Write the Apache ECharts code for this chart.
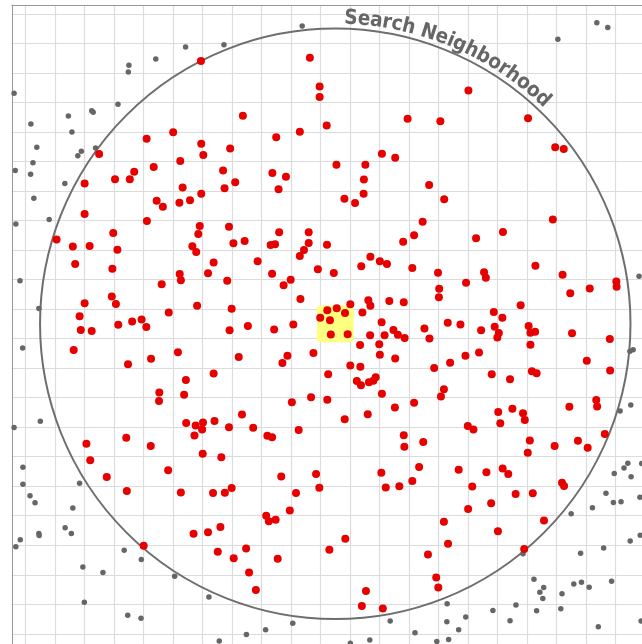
<!DOCTYPE html>
<html>
<head>
<meta charset="utf-8">
<script src="https://cdn.jsdelivr.net/npm/echarts@6/dist/echarts.min.js"></script>
<style>
  html, body { margin: 0; padding: 0; background: #ffffff; }
  #chart { width: 642px; height: 644px; }
</style>
</head>
<body>
<div id="chart"></div>
<script>
// Data (grid cell = 10 units; search neighborhood centred on cell (100..110, 100..110))
const searchCenter = [105, 105];
const searchRadius = 100;
const focusCell = [98.75, 98.75, 111.25, 111.25];
const labelText = 'Search Neighborhood';

const neighborPoints = [
[59.5,16.0],[25.0,47.5],[41.1,42.3],[50.1,40.1],[59.6,44.0],[60.3,47.8],[52.5,49.8],[43.5,51.9],[36.9,53.5],[35.4,56.0],
[30.4,56.0],[20.1,57.5],[53.3,58.8],[59.6,60.9],[44.5,63.3],[46.6,65.3],[52.2,64.0],[55.8,63.1],[20.1,67.8],[96.4,14.9],
[99.7,24.6],[99.7,28.2],[73.7,34.5],[102.1,37.8],[129.5,35.5],[85.0,41.8],[93.0,39.9],[69.4,45.6],[67.0,53.1],[67.5,59.1],
[71.1,57.0],[83.7,53.9],[88.3,55.2],[85.8,59.4],[105.4,51.1],[115.2,51.1],[120.8,47.4],[125.3,48.7],[114.7,56.1],[114.6,60.9],
[108.1,62.6],[111.7,64.1],[136.8,58.0],[150.1,26.0],[140.6,36.4],[170.3,35.4],[179.5,45.2],[182.4,45.8],[141.9,62.8],[10.6,76.4],
[16.1,78.8],[21.8,78.6],[29.8,74.2],[31.2,79.9],[41.2,70.2],[16.9,84.7],[29.5,86.3],[59.1,71.9],[58.6,74.6],[56.6,78.7],
[57.9,80.7],[63.8,84.2],[61.9,87.9],[52.3,88.1],[52.7,90.2],[46.2,91.6],[29.3,95.7],[30.7,98.3],[20.1,98.0],[18.4,102.4],
[18.8,107.1],[22.5,107.4],[31.5,105.3],[36.2,104.2],[39.4,103.5],[41.0,106.1],[48.6,101.2],[58.2,98.9],[16.4,113.9],[51.7,114.6],
[42.6,116.8],[34.8,118.7],[63.8,121.8],[54.4,124.0],[53.8,129.0],[45.4,128.3],[45.3,131.1],[54.5,138.6],[57.7,139.4],[60.2,138.4],
[59.9,140.8],[64.1,137.9],[69.0,72.1],[70.5,77.7],[74.3,76.9],[86.0,74.0],[96.0,74.0],[83.1,78.3],[84.6,78.0],[96.0,77.6],
[94.4,80.0],[93.0,82.0],[102.2,78.2],[78.7,83.8],[83.6,88.0],[89.9,90.1],[87.5,91.9],[99.1,86.5],[104.5,87.8],[68.4,90.4],
[93.2,96.6],[69.9,99.9],[69.2,107.2],[75.4,105.7],[84.3,106.9],[90.8,105.2],[72.3,116.2],[88.8,115.8],[87.1,118.3],[97.6,114.9],
[102.3,100.4],[105.5,99.7],[108.3,101.3],[110.1,98.4],[99.9,102.9],[103.2,103.8],[103.5,108.6],[109.2,108.5],[113.8,85.5],[116.9,82.3],
[120.1,83.8],[122.5,84.7],[128.0,77.2],[131.7,75.0],[134.6,70.4],[131.1,86.1],[116.2,97.0],[116.9,98.9],[123.3,97.3],[128.2,97.7],
[114.2,101.2],[120.7,104.5],[124.7,107.1],[126.2,108.7],[128.5,109.8],[121.7,108.9],[116.8,108.9],[113.4,112.2],[119.9,111.9],[120.1,115.5],
[125.3,116.7],[135.2,106.6],[136.9,110.0],[110.1,119.1],[113.5,119.5],[102.6,122.1],[112.3,124.4],[113.7,125.8],[116.4,124.8],[117.9,124.3],
[118.7,123.1],[120.8,128.7],[125.2,133.3],[131.7,131.7],[96.8,129.9],[102.3,130.7],[90.3,131.6],[73.4,135.7],[69.0,140.0],[77.2,140.2],
[92.6,141.0],[108.2,137.3],[116.0,135.6],[178.7,69.7],[161.8,73.9],[152.7,76.0],[172.8,85.3],[182.0,88.4],[139.8,87.7],[155.4,87.5],
[156.0,89.4],[149.3,91.1],[140.2,93.1],[140.1,96.0],[184.6,94.6],[191.2,93.0],[200.2,90.7],[200.3,92.4],[167.8,98.7],[158.7,101.0],
[161.6,102.9],[143.1,104.6],[147.4,105.2],[154.4,107.2],[159.0,106.0],[160.4,108.1],[159.9,109.6],[170.5,105.7],[171.1,108.0],[172.7,107.7],
[171.1,112.1],[185.2,108.2],[198.0,110.1],[153.7,114.7],[149.1,115.8],[143.9,118.2],[138.5,120.0],[158.0,122.1],[164.2,123.8],[171.6,121.1],
[173.2,121.7],[190.2,117.5],[198.1,120.8],[141.8,127.2],[140.8,129.6],[193.4,130.8],[193.7,133.0],[184.3,133.1],[160.2,134.9],[165.0,133.8],
[168.6,135.3],[169.2,137.6],[160.9,138.7],[149.9,139.6],[151.8,140.8],[20.7,145.6],[22.0,151.2],[34.2,143.6],[42.5,146.4],[27.6,156.9],
[34.4,161.6],[48.4,154.6],[52.7,162.1],[57.3,142.8],[60.1,149.0],[63.6,162.3],[57.0,176.1],[61.9,175.6],[40.1,180.2],[82.0,142.9],
[83.6,143.4],[66.4,150.2],[67.6,162.2],[69.9,160.6],[86.7,156.7],[98.5,155.9],[99.6,160.5],[91.7,162.3],[89.6,168.2],[81.6,170.0],
[82.5,171.9],[84.8,171.4],[66.1,173.8],[65.2,182.2],[74.8,181.1],[70.6,184.4],[85.5,184.6],[75.8,189.2],[78.1,195.2],[103.0,181.5],
[108.4,177.8],[115.4,195.5],[114.0,200.6],[121.1,201.4],[128.2,142.7],[128.4,146.6],[134.8,145.0],[120.6,155.4],[122.1,160.4],[126.7,160.0],
[131.1,158.2],[133.4,153.5],[136.4,183.1],[170.9,144.5],[170.2,148.7],[179.3,146.4],[187.2,144.6],[190.5,147.0],[196.3,142.3],[146.8,154.4],
[156.2,155.3],[161.7,154.0],[163.6,155.9],[151.4,160.1],[181.8,158.8],[182.5,159.9],[166.1,162.6],[171.9,162.4],[157.8,165.8],[150.0,167.7],
[141.8,172.0],[175.7,171.6],[160.1,175.3],[143.2,179.5],[169.0,181.3],[139.2,190.9],[139.9,194.3]
];

const outsidePoints = [
[-3.8,26.9],[54.3,11.2],[44.2,15.3],[35.1,17.4],[34.9,19.7],[31.4,30.6],[22.5,32.8],[23.0,33.3],[14.6,34.6],[1.9,37.3],
[15.8,40.0],[3.9,45.2],[23.8,45.4],[19.0,46.5],[17.8,48.1],[2.6,50.4],[-3.4,53.1],[1.8,54.3],[13.4,57.5],[2.9,62.5],
[67.3,10.5],[93.8,4.1],[180.4,8.6],[193.6,3.0],[197.3,4.6],[-3.2,71.2],[8.1,69.7],[-1.8,90.4],[4.6,99.8],[-0.9,113.2],
[5.1,138.0],[-3.8,140.1],[207.9,88.9],[204.8,114.3],[205.9,113.8],[205.1,132.5],[201.5,134.5],[-0.8,153.6],[-0.8,159.3],[1.6,163.2],
[3.3,165.6],[18.4,159.0],[16.1,167.4],[13.5,174.1],[15.6,176.0],[4.6,176.0],[4.7,176.7],[-1.7,178.1],[-3.2,180.5],[33.5,181.7],
[39.3,184.8],[19.5,187.4],[26.3,189.2],[50.6,190.5],[20.0,199.3],[34.7,203.7],[39.2,204.7],[62.2,197.5],[65.7,212.4],[74.9,210.2],
[81.4,208.6],[90.6,206.4],[110.1,213.2],[116.7,212.1],[123.6,205.7],[132.0,209.6],[204.1,152.2],[202.8,153.8],[208.8,152.3],[199.5,155.7],
[205.2,156.8],[196.7,162.4],[199.2,165.5],[201.8,165.3],[208.2,163.7],[192.1,167.3],[184.9,169.3],[204.9,178.6],[208.3,176.6],[195.9,180.9],
[188.1,182.7],[168.6,182.9],[172.3,191.5],[175.6,194.3],[174.3,195.9],[175.3,198.0],[181.8,196.4],[185.8,193.1],[188.4,192.5],[191.0,194.2],
[198.6,192.2],[181.4,201.5],[173.2,202.2],[166.2,200.2],[158.4,202.1],[164.2,205.6],[149.2,204.3],[142.9,199.8],[142.8,205.9],[146.8,208.6],
[143.4,211.9],[139.4,212.6],[194.1,207.6],[208.6,205.7]
];

// axis extents chosen so that one grid cell (10 units) spans ~29.5 px
const xRange = [-4.5, 208.9];
const yRange = [-3, 213.45];

const chart = echarts.init(document.getElementById('chart'), null, { renderer: 'canvas' });

const labelFamily = "'DejaVu Sans Condensed','DejaVu Sans',sans-serif";
const measureCtx = document.createElement('canvas').getContext('2d');

function renderNeighborhood(params, api) {
  const c = api.coord([api.value(0), api.value(1)]);
  const r = api.size([api.value(2), 0])[0];
  const children = [{
    type: 'circle',
    shape: { cx: c[0], cy: c[1], r: r },
    style: { fill: 'none', stroke: '#6e6e6e', lineWidth: 2 },
    z2: 1
  }];
  // curved label along the arc
  const rt = r + 10.5;
  const a0 = 1.7 * Math.PI / 180;
  const a1 = 44.0 * Math.PI / 180;
  const target = rt * (a1 - a0);
  measureCtx.font = 'bold 20px ' + labelFamily;
  const w0 = measureCtx.measureText(labelText).width;
  let fs = 20 * target / w0;
  fs = Math.max(16, Math.min(22, fs));
  measureCtx.font = 'bold ' + fs + 'px ' + labelFamily;
  let acc = 0;
  for (const ch of labelText) {
    const w = measureCtx.measureText(ch).width;
    const th = a0 + (acc + w / 2) / rt;
    acc += w;
    if (ch === ' ') continue;
    children.push({
      type: 'text',
      x: c[0] + rt * Math.sin(th),
      y: c[1] - rt * Math.cos(th),
      rotation: -th,
      style: {
        text: ch,
        font: 'bold ' + fs + 'px ' + labelFamily,
        fill: '#666666',
        align: 'center',
        verticalAlign: 'middle'
      },
      z2: 5
    });
  }
  return { type: 'group', children: children };
}

function renderFocus(params, api) {
  const p0 = api.coord([api.value(0), api.value(1)]);
  const p1 = api.coord([api.value(2), api.value(3)]);
  return {
    type: 'rect',
    shape: { x: Math.min(p0[0], p1[0]), y: Math.min(p0[1], p1[1]),
             width: Math.abs(p1[0] - p0[0]), height: Math.abs(p1[1] - p0[1]), r: 4 },
    style: { fill: '#ffff80' }
  };
}

const option = {
  animation: false,
  backgroundColor: '#ffffff',
  grid: { left: 12, top: 5, right: 0, bottom: 0, containLabel: false, show: false },
  xAxis: {
    type: 'value', position: 'top', min: xRange[0], max: xRange[1],
    minInterval: 10, maxInterval: 10,
    axisLine: { show: true, onZero: false, lineStyle: { color: '#9a9a9a', width: 1 } },
    axisTick: { show: false }, axisLabel: { show: false },
    splitLine: { show: true, showMaxLine: false, lineStyle: { color: '#dcdcdc', width: 1.2 } }
  },
  yAxis: {
    type: 'value', position: 'left', inverse: true, min: yRange[0], max: yRange[1],
    minInterval: 10, maxInterval: 10,
    axisLine: { show: true, onZero: false, lineStyle: { color: '#9a9a9a', width: 1 } },
    axisTick: { show: false }, axisLabel: { show: false },
    splitLine: { show: true, showMaxLine: false, lineStyle: { color: '#dcdcdc', width: 1.2 } }
  },
  series: [
    {
      type: 'custom', name: 'focus', renderItem: renderFocus,
      data: [focusCell], z: 1, silent: true, clip: false
    },
    {
      type: 'custom', name: 'neighborhood', renderItem: renderNeighborhood,
      data: [[searchCenter[0], searchCenter[1], searchRadius]], z: 2, silent: true, clip: false
    },
    {
      type: 'scatter', name: 'outside', data: outsidePoints, symbol: 'circle', symbolSize: 5.5,
      itemStyle: { color: '#666666', opacity: 1 }, z: 3, clip: false
    },
    {
      type: 'scatter', name: 'inside', data: neighborPoints, symbol: 'circle', symbolSize: 8,
      itemStyle: { color: '#e60000', opacity: 1 }, z: 4, clip: false
    }
  ]
};
chart.setOption(option);
</script>
</body>
</html>
